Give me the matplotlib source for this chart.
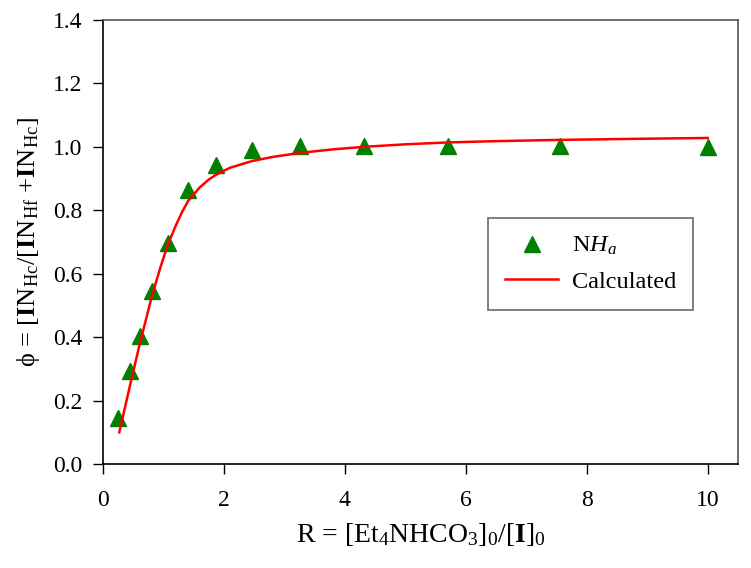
import matplotlib
matplotlib.use("Agg")
import matplotlib.pyplot as plt

# measured points (NH_a)
r_pts = [0.25, 0.45, 0.61, 0.81, 1.07, 1.41, 1.87, 2.46, 3.26, 4.31, 5.71, 7.56, 10.0]
phi_pts = [0.145, 0.292, 0.403, 0.544, 0.698, 0.863, 0.942, 0.989, 1.003, 1.003, 1.003, 1.003, 1.0]

# calculated curve
r_calc = [0.27, 0.45, 0.61, 0.81, 0.95, 1.07, 1.2, 1.31, 1.41, 1.6, 1.75, 1.87, 2.1, 2.46, 2.8, 3.26, 3.8, 4.31, 5.0, 5.71, 6.5, 7.56, 8.7, 10.0]
phi_calc = [0.10, 0.25, 0.38, 0.53, 0.62, 0.69, 0.75, 0.795, 0.83, 0.872, 0.897, 0.912, 0.934, 0.955, 0.968, 0.981, 0.992, 1.0, 1.008, 1.014, 1.018, 1.022, 1.025, 1.028]

plt.rcParams['font.family'] = ['Liberation Serif', 'DejaVu Serif']
plt.rcParams['mathtext.fontset'] = 'custom'
plt.rcParams['mathtext.rm'] = 'Liberation Serif'
plt.rcParams['mathtext.it'] = 'Liberation Serif:italic'
plt.rcParams['mathtext.bf'] = 'Liberation Serif:bold'

fig = plt.figure(figsize=(7.51, 5.68), dpi=100)
ax = fig.add_axes([0.1371, 0.1831, 0.8455, 0.7817])

ax.plot(r_pts, phi_pts, linestyle='none', marker='^', markersize=11,
        color='#008000', label=r'N$\mathit{H}_{\mathit{a}}$')
ax.plot(r_calc, phi_calc, color='#ff0000', linewidth=1.8, label='Calculated')

ax.set_xlim(0, 10.5)
ax.set_ylim(0, 1.4)
ax.set_xticks([0, 2, 4, 6, 8, 10])
ax.set_yticks([0.0, 0.2, 0.4, 0.6, 0.8, 1.0, 1.2, 1.4])
ax.set_yticklabels(['0.0', '0.2', '0.4', '0.6', '0.8', '1.0', '1.2', '1.4'])
ax.tick_params(direction='out', length=7, width=1, labelsize=17, pad=8)
ax.tick_params(axis='x', pad=12)
ax.spines['left'].set_color('black')
ax.spines['bottom'].set_color('black')
ax.spines['top'].set_color('#555555')
ax.spines['right'].set_color('#555555')
for s in ax.spines.values():
    s.set_linewidth(1.2)

ax.set_xlabel(r'R = [Et$_4$NHCO$_3$]$_0$/[$\mathbf{I}$]$_0$', fontsize=20, labelpad=7)
ax.set_ylabel('\u03d5 = ' + r'[$\mathbf{I}$N$_{\mathrm{Hc}}$/[$\mathbf{I}$N$_{\mathrm{Hf}}$ +$\mathbf{I}$N$_{\mathrm{Hc}}$]',
              fontsize=19, labelpad=8)

leg = ax.legend(loc='upper left', fontsize=17.5,
                frameon=True, fancybox=False, edgecolor='#444444',
                borderpad=0.7, handlelength=2.2, handletextpad=0.55,
                labelspacing=0.55, borderaxespad=0)
leg.get_frame().set_linewidth(1.2)
leg.set_bbox_to_anchor((488 / 751, 1 - 218 / 568), transform=fig.transFigure)

fig.savefig('out.png', dpi=100)
